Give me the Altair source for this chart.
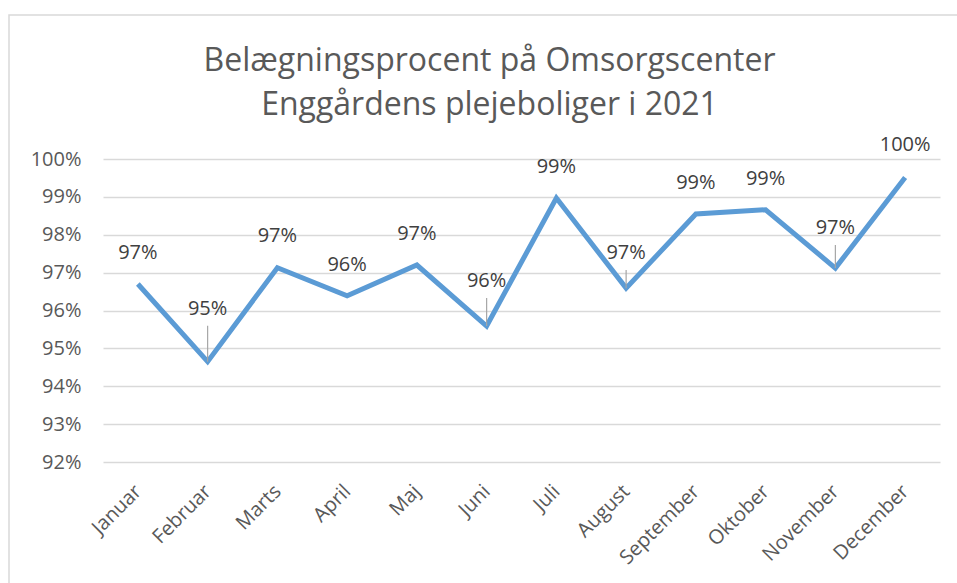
import altair as alt
import pandas as pd

months = ["Januar", "Februar", "Marts", "April", "Maj", "Juni", "Juli",
          "August", "September", "Oktober", "November", "December"]
occupancy = [96.70, 94.65, 97.13, 96.39, 97.20, 95.59, 98.97,
             96.59, 98.55, 98.66, 97.12, 99.51]
y_ticks = [92, 93, 94, 95, 96, 97, 98, 99, 100]
title_lines = ["Belægningsprocent på Omsorgscenter", "Enggårdens plejeboliger i 2021"]

# layout: how far each data label sits above its point (percentage points)
label_lift = [0.82, 1.40, 0.85, 0.82, 0.82, 1.19, 0.82, 0.93, 0.82, 0.82, 1.06, 0.85]
has_leader = [False, True, False, False, False, True, False, True, False, False, True, False]

df = pd.DataFrame({"month": months, "value": occupancy,
                   "lift": label_lift, "leader": has_leader})

FONT = "Open Sans"
GREY = "#595959"
FS = 20

x_scale = alt.Scale(type="point", padding=0.5)
y_scale = alt.Scale(domain=[92, 100], nice=False, zero=False)

X_AXIS = alt.Axis(title=None, labelAngle=-45, labelAlign="right",
                  labelBaseline="middle", labelPadding=26,
                  labelFontSize=FS, labelColor=GREY, labelFont=FONT,
                  labelOverlap=False,
                  ticks=False, domain=False, grid=False)
Y_AXIS = alt.Axis(title=None, values=y_ticks, labelExpr="datum.value + '%'",
                  labelFontSize=FS, labelColor=GREY, labelFont=FONT,
                  labelOverlap=False, tickCount=9,
                  labelPadding=22, ticks=False, domain=False,
                  grid=True, gridColor="#D9D9D9", gridWidth=1.3)


def xe():
    return alt.X("month:N", sort=months, scale=x_scale, axis=X_AXIS)


def ye(field):
    return alt.Y(field, scale=y_scale, axis=Y_AXIS)


base = alt.Chart(df)

line = base.mark_line(color="#5B9BD5", strokeWidth=5, strokeJoin="miter").encode(
    x=xe(), y=ye("value:Q"),
)

leaders = base.transform_filter("datum.leader").transform_calculate(
    top="datum.value + datum.lift - 0.45"
).mark_rule(color="#A6A6A6", strokeWidth=1.2).encode(
    x=xe(), y=ye("value:Q"), y2="top:Q",
)

labels = base.transform_calculate(
    ly="datum.value + datum.lift",
    txt="round(datum.value) + '%'"
).mark_text(font=FONT, fontSize=FS, color="#404040", baseline="middle").encode(
    x=xe(), y=ye("ly:Q"), text="txt:N",
)

one = pd.DataFrame({"a": [0]})
border = alt.Chart(one).mark_rect(
    fill=None, stroke="#D9D9D9", strokeWidth=1.5
).encode(
    x=alt.value(-94), x2=alt.value(900), y=alt.value(-144), y2=alt.value(600)
)

title1 = alt.Chart(one).mark_text(
    text=title_lines[0], font=FONT, fontSize=32, color=GREY,
    align="center", baseline="alphabetic"
).encode(x=alt.value(386.5), y=alt.value(-88))
title2 = alt.Chart(one).mark_text(
    text=title_lines[1], font=FONT, fontSize=32, color=GREY,
    align="center", baseline="alphabetic"
).encode(x=alt.value(386.5), y=alt.value(-44))

chart = alt.layer(border, line, leaders, labels, title1, title2).properties(
    width=837, height=303,
    background="white",
    autosize=alt.AutoSizeParams(type="none"),
    padding={"left": 103, "top": 159, "right": 17, "bottom": 121},
).configure_view(strokeWidth=0)

chart.save("out.html", embed_options={"renderer": "svg", "actions": False})
